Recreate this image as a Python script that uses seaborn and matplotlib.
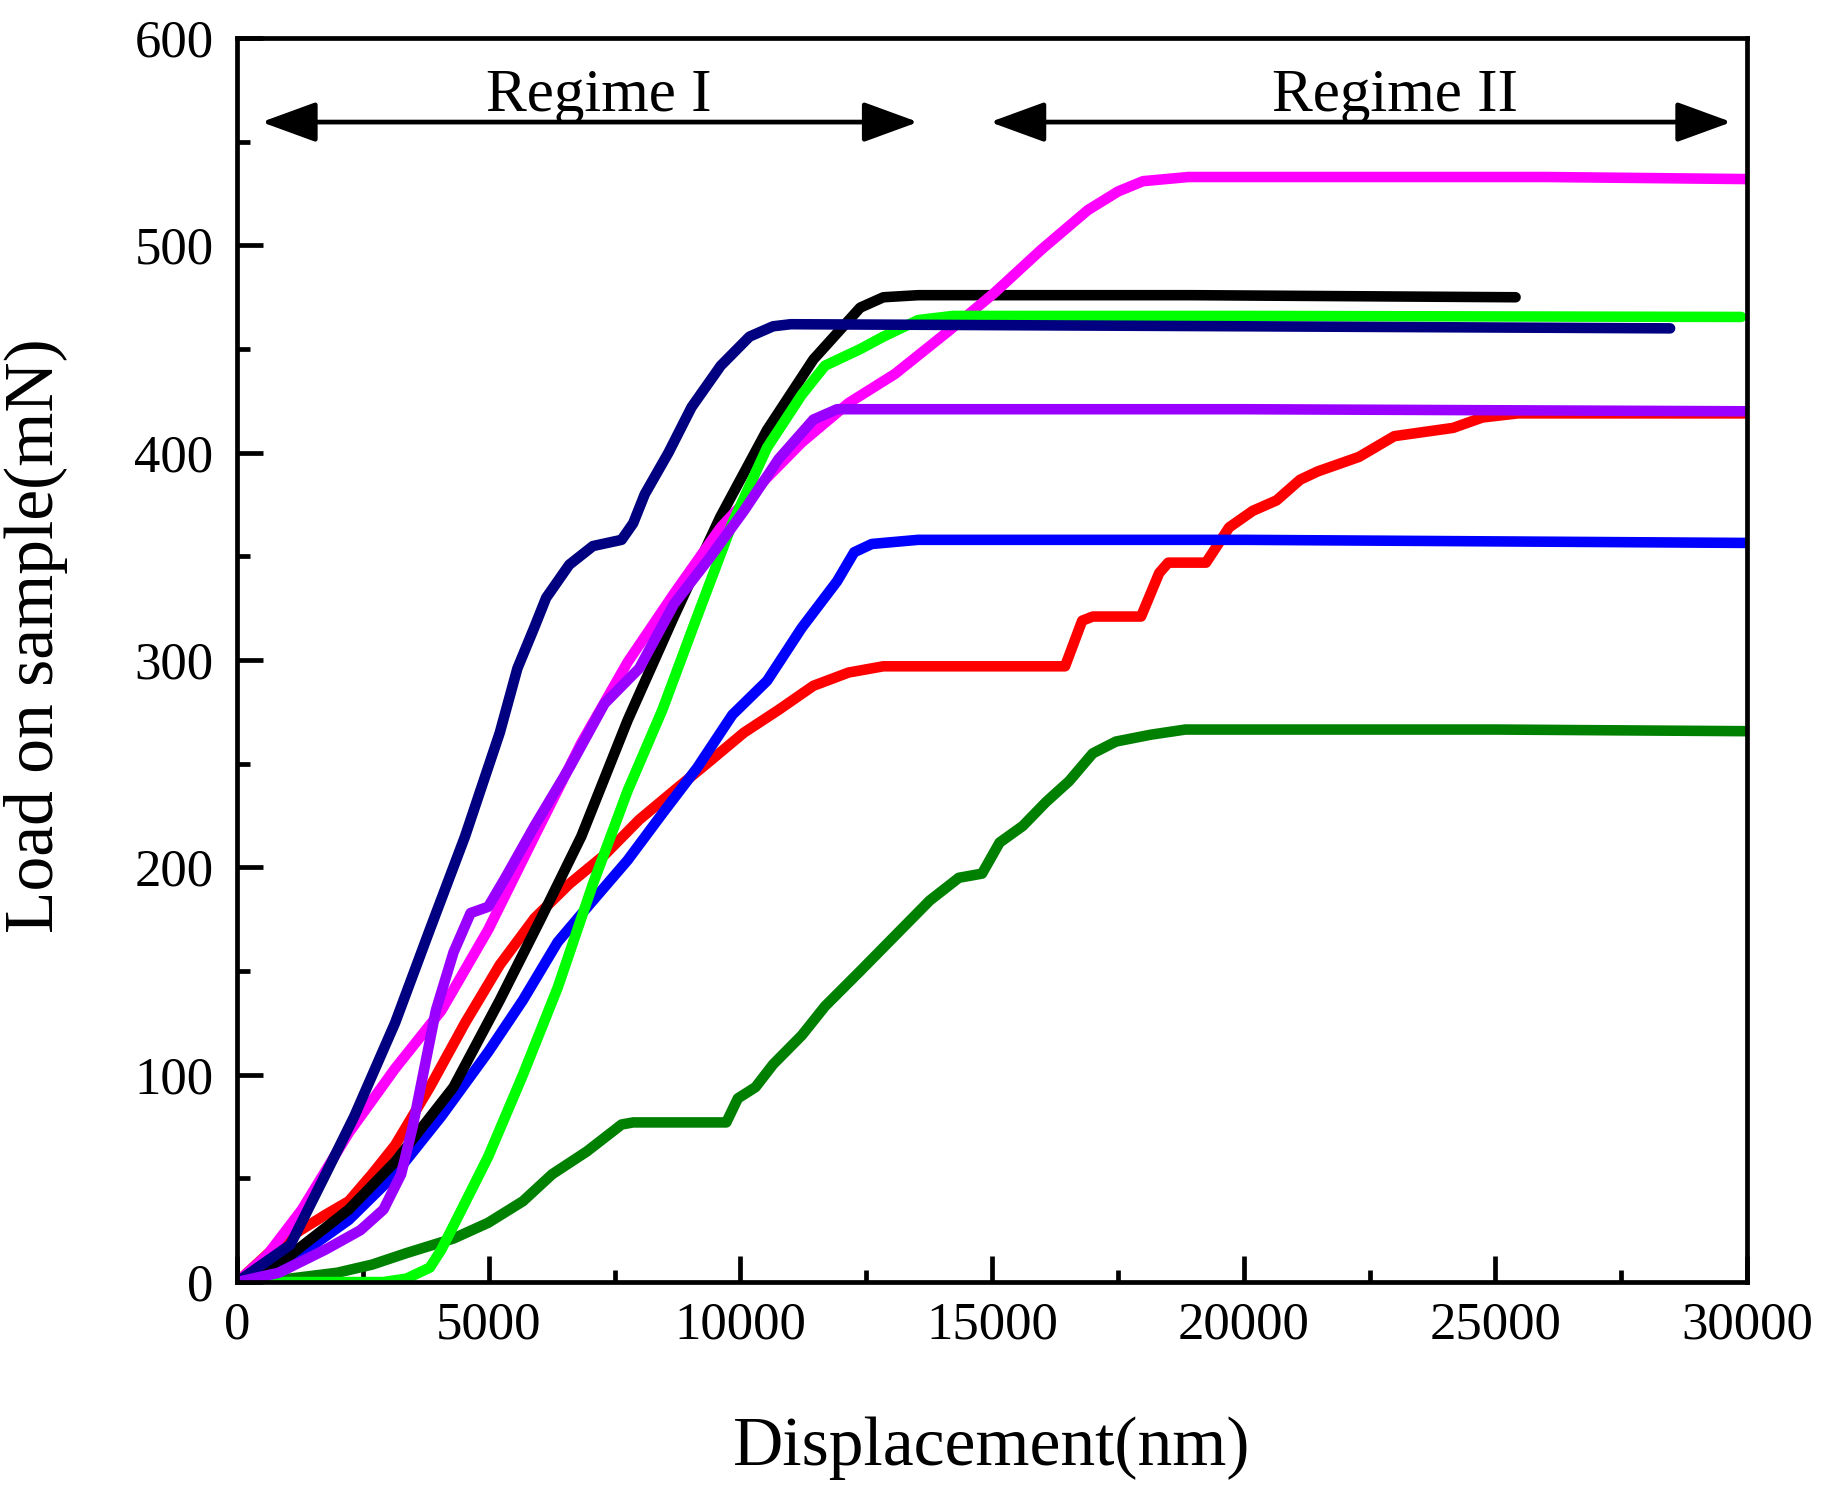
import matplotlib
matplotlib.use("Agg")
import matplotlib.pyplot as plt
import seaborn as sns
from matplotlib.ticker import MultipleLocator

# Load-displacement curves (x in nm, y in mN)
black_x = [0, 1060, 2220, 3140, 4300, 5220, 6030, 6840, 7760, 8680, 9600, 10530, 11450, 12380, 12840, 13530, 19000, 25400]
black_y = [0, 13, 35, 58, 94, 136, 175, 215, 271, 321, 369, 411, 445, 470, 475, 476, 476, 475]

navy_x = [0, 1060, 1760, 2330, 3140, 3830, 4530, 5220, 5570, 5910, 6140, 6600, 7070, 7640, 7870, 8100, 8570, 9030, 9610, 10180, 10650, 11000, 20000, 28470]
navy_y = [0, 18, 52, 80, 125, 170, 215, 265, 296, 316, 330, 346, 355, 358, 366, 380, 400, 422, 442, 456, 461, 462, 461, 460]

magenta_x = [0, 600, 1290, 2220, 3140, 4060, 4990, 5910, 6840, 7760, 8680, 9610, 10530, 11220, 12150, 13070, 14100, 15040, 15980, 16900, 17500, 18000, 18900, 26000, 30000]
magenta_y = [0, 13, 35, 72, 103, 131, 170, 215, 260, 299, 332, 364, 388, 405, 424, 438, 458, 477, 498, 517, 526, 531, 533, 533, 532]

purple_x = [0, 830, 1760, 2450, 2910, 3260, 3490, 3720, 3950, 4300, 4640, 4990, 5330, 5910, 6600, 7300, 7990, 8680, 9380, 10070, 10760, 11450, 11920, 20000, 30000]
purple_y = [0, 4.5, 15.7, 25, 35, 52, 75, 103, 131, 159, 178, 181, 195, 220, 248, 279, 296, 327, 349, 372, 397, 416, 421, 421, 420]

red_x = [0, 830, 1760, 2220, 2680, 3140, 3830, 4530, 5220, 5910, 6600, 7300, 7990, 8680, 9380, 10070, 10760, 11450, 12150, 12840,
         13760, 16450, 16790, 17000, 17960, 18320, 18500, 19250, 19710, 20180, 20650, 21120, 21470, 22290, 22990, 24160, 24740, 25450, 30000]
red_y = [0, 18.5, 32.5, 39, 52, 66, 94, 125, 153, 175.5, 192, 206, 223, 237, 251, 265, 276, 287.6, 294, 297,
         297, 297, 319, 321, 321, 342, 347, 347, 364, 372, 377, 387, 391, 398, 408, 412, 417, 419, 419]

blue_x = [0, 1060, 2220, 3140, 4060, 4990, 5680, 6370, 7070, 7760, 8450, 9140, 9840, 10530, 11220, 11920, 12260, 12610, 13530, 20000, 30000]
blue_y = [0, 10, 30, 52, 80, 111, 136, 164, 184, 203.5, 226, 248, 273.6, 290, 315.6, 338, 352, 356, 358, 358, 356.5]

lime_x = [0, 2910, 3370, 3830, 4060, 4410, 4990, 5680, 6370, 7070, 7760, 8450, 9140, 9840, 10530, 11220, 11680, 12380, 12840, 13530, 14220, 20000, 29880]
lime_y = [0, 0, 1.7, 7, 15.7, 32.5, 60.5, 100, 142, 192, 237, 276, 321, 366, 402.5, 428, 442, 450, 456, 464, 466, 466, 465.5]

dgreen_x = [0, 1060, 1990, 2680, 3370, 4300, 4990, 5680, 6260, 6950, 7640, 7870, 9720, 9950, 10300, 10650, 11220, 11680, 12380, 13070,
            13760, 14340, 14800, 15150, 15610, 16070, 16530, 17000, 17460, 18150, 18840, 19020, 25000, 30000]
dgreen_y = [0, 1.7, 4.5, 8.4, 14, 21, 28.6, 39, 52, 63, 76, 77, 77, 88.6, 94, 105, 119, 133, 150, 167,
            184, 195, 197, 212, 220, 231.5, 241.6, 255, 260.7, 264, 266.5, 266.5, 266.5, 265.7]

sns.set_style("white")
plt.rcParams['font.family'] = ['Liberation Serif', 'DejaVu Serif']
plt.rcParams['text.color'] = 'black'
plt.rcParams['axes.labelcolor'] = 'black'
plt.rcParams['xtick.color'] = 'black'
plt.rcParams['ytick.color'] = 'black'

fig = plt.figure(figsize=(18.22, 15.06), dpi=100)
ax = fig.add_axes([0.1301, 0.1487, 0.8288, 0.8260])

series = [
    (red_x, red_y, '#FF0000'),
    (dgreen_x, dgreen_y, '#008000'),
    (blue_x, blue_y, '#0000FF'),
    (black_x, black_y, '#000000'),
    (magenta_x, magenta_y, '#FF00FF'),
    (lime_x, lime_y, '#00FF00'),
    (navy_x, navy_y, '#000080'),
    (purple_x, purple_y, '#9900FF'),
]
for xs, ys, c in series:
    sns.lineplot(x=xs, y=ys, color=c, linewidth=7.6, sort=False, estimator=None, ax=ax,
                 solid_capstyle='round', solid_joinstyle='round')

ax.set_xlim(0, 30000)
ax.set_ylim(0, 600)
ax.xaxis.set_major_locator(MultipleLocator(5000))
ax.xaxis.set_minor_locator(MultipleLocator(2500))
ax.yaxis.set_major_locator(MultipleLocator(100))
ax.yaxis.set_minor_locator(MultipleLocator(50))

for s in ax.spines.values():
    s.set_linewidth(3.4)
    s.set_color('black')
ax.tick_params(which='both', direction='in', bottom=True, left=True, top=False, right=False,
               width=3.4, color='black')
ax.tick_params(which='major', length=19, labelsize=38, labelcolor='black')
ax.tick_params(axis='x', which='major', pad=14)
ax.tick_params(axis='y', which='major', pad=17)
ax.tick_params(which='minor', length=9)

ax.set_xlabel('Displacement(nm)', fontsize=50)
ax.set_ylabel('Load on sample(mN)', fontsize=50)
ax.xaxis.set_label_coords(0.5, -0.108)
ax.yaxis.set_label_coords(-0.112, 0.52)

# Regime arrows
arrow_props = dict(arrowstyle='<|-|>,head_length=2.6,head_width=0.95', mutation_scale=13,
                   lw=3.4, color='black', shrinkA=0, shrinkB=0)
ax.annotate('', xy=(485, 559.5), xytext=(13530, 559.5), arrowprops=arrow_props)
ax.annotate('', xy=(14960, 559.5), xytext=(29690, 559.5), arrowprops=arrow_props)
ax.text(7180, 565, 'Regime I', fontsize=44, ha='center', va='baseline')
ax.text(23000, 565, 'Regime II', fontsize=44, ha='center', va='baseline')

fig.savefig('out.png', dpi=100)
